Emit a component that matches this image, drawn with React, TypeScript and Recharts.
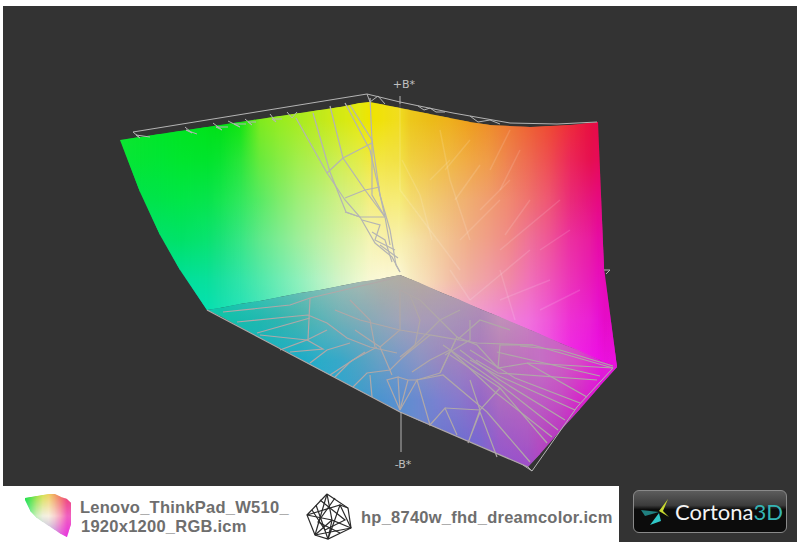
import { Area, ComposedChart, Line, ReferenceDot, XAxis, YAxis } from "recharts";

// wall of the gamut: column edges, top and bottom of the solid at each edge
const wallX = [120,140,160,180,207,220,240,260,280,300,320,340,360,370,385,400,410,430,450,470,490,510,530,550,570,590,598,604,617];
const wallTop = [140,137,134,131,127,125,122,119,116,113,110,107,103,102,105,108,110,114,118,122,125,126,127,126,125,123,122,268,367];
const wallBottom = [140,192,235,270,310,308,304,301,297,293,290,286,282,281,278,275,279,288,296,305,313,322,330,339,347,356,359,362,367];
const wallRows = [120,160,200,240,280,320,360];
const wallColors = [
  "10e62c 08e638 00e450 00e270 00e098 00e0b0 00e0b8",
  "08e628 04e634 00e44c 00e270 00e098 00e0b0 00e0b8",
  "00e624 00e634 00e44a 00e26c 00e098 00e0b4 00e0b8",
  "00e420 00e62e 00e648 00e268 00e09c 00e0b8 00e0c0",
  "00e218 00e42c 06e44c 08e270 08e09c 04e0b8 00e0c0",
  "00e014 08e430 14e650 18e278 18e0a0 14e0b8 10e0c0",
  "10e410 28e638 30e85c 36e684 30e4a8 24e2bc 20e0c0",
  "80ea1e 68ea3c 58ea64 60e88c 50e8ac 40e4c0 40e4c0",
  "98ec20 88ec44 80ec6c 80ec94 70ecb4 60e8c4 60e8c4",
  "aaec20 a4ee4c a0ee78 a0ee9c 90f0bc 80ecc4 80ecc4",
  "c0ea1c b8ee50 b8f080 bcf0a4 b4f2c4 a0f0c8 a0f0c8",
  "d4ea14 d0ee50 d0f084 d4f2a8 d4f4c8 c0f4d0 c0f4d0",
  "e4e810 e4ec48 e4f080 e8f4b0 eef8d0 e0f8d8 e0f8d8",
  "eee400 f0e840 f4ee80 f6f4b4 f8f8d4 f8f8d8 f8f8d8",
  "f0e010 f2e444 f6ec78 f8f0ac fcf8d8 fcf8d8 fcf8d8",
  "f0dc20 f2e044 f6ec78 f8f0ac fcf8d8 fcf0e0 fcf0e0",
  "ecc81c f0d040 f4dc70 f6e8a8 f8ecc4 fbe8e4 fbe8e4",
  "ecbc18 f0c440 f2cc70 f4d49c f6d8b4 f8c8d8 f8d0e0",
  "eeb01c f0b844 f0bc70 f2c090 f2c0a8 f4b0d8 f6c0e0",
  "ee9e1c f0a844 f0ac70 f0ac88 f0aca4 f2a0d8 f4a0e8",
  "ee8c28 ef9a48 f09c70 f09c88 f09ca8 f090d8 f090ea",
  "ee7830 ee8050 f08870 f08888 f088a8 f080d8 f080ec",
  "ee6030 ee6850 ef7070 ef7098 f070b8 f070dc f068ec",
  "ee4830 ee4c50 ee5474 ee5498 ee54b8 ef54d8 f04ce8",
  "ee2c38 ec2858 ea2c78 ec30a0 ec34b8 ee30d4 f028e8",
  "e81040 e61050 e6147c e81ca0 e81cb8 ea20d4 ee18e4",
  "e60a48 e60a58 e60a80 e60ca4 e810bc e812d4 ee10e4",
  "e60a48 e60a58 e60a80 e60ca4 e80cb8 e60cc8 ea10dc",
];

// floor of the gamut
const floorX = [207,220,240,260,280,300,320,340,360,380,400,420,440,460,480,500,528,540,560,580,600,617];
const floorTop = [310,308,304,301,297,293,290,286,282,279,275,283,292,300,309,317,329,334,343,351,360,367];
const floorBottom = [310,316,327,338,348,359,370,380,391,401,412,421,429,438,446,455,467,454,431,409,386,367];
const floorRows = [280,320,360,400,440,480];
const floorColors = [
  "10c8b0 10c8b0 10c0b0 10c0b0 10c0b0 10c0b0",
  "10c4a8 10c4a8 10bcb0 10bcb0 10bcb0 10bcb0",
  "30c8b0 18bcae 14b4b8 14b4b8 14b4b8 14b4b8",
  "48c8b4 20b8b0 14b0c0 14b0c0 14b0c0 14b0c0",
  "60c4b4 30b4b0 18b0c4 18b0c4 18b0c4 18b0c4",
  "74c0b4 44b4b0 1cacc8 20a8cc 20a8cc 20a8cc",
  "88beb4 58b4b8 2cacc8 28a8d0 28a8d0 28a8d0",
  "98bcb4 70b0b8 38a8c8 30a4d0 30a4d0 30a4d0",
  "a4b8b0 80acb8 50a4c4 3c9ccc 3c9ccc 3c9ccc",
  "acb0a8 90a8b8 68a0c4 4c94d0 4c94d0 4c94d0",
  "b0aca4 a0a4b8 7898c8 5c90d0 5c90d0 5c90d0",
  "b4a8a0 a89cb8 8c94c4 6c88d0 6c88d0 6c88d0",
  "b4a4a4 a898b8 9888c0 7c80d0 6c78d0 6c78d0",
  "b8a0a8 a890b8 a080c0 8878cc 7070d0 7070d0",
  "bc98b0 ac88b8 a878c0 9468c8 7c68d0 7c68d0",
  "c090b8 c090b8 b47cb8 ac6cc0 9c5cc8 8c54d0",
  "c880c0 c880c0 c070c0 b864c0 a858c4 9848cc",
  "c870c4 c870c4 c470c4 bc5cc4 b44cc0 ac40c8",
  "cc60c4 cc60c4 cc60c4 c44cc4 b834c0 b834c0",
  "d848c8 d848c8 d848c8 d428c8 cc18c8 cc18c8",
  "e020d8 e020d8 e020d8 e010d8 e010d8 e010d8",
];

// legend thumbnail of the first profile
const thumbX = [25,31,37,43,49,55,61,67,71];
const thumbTop = [498,497,496,495,494,494,497,499,503];
const thumbBottom = [500,512,518,522,526,530,534,537,524];
const thumbRows = [494,516,538];
const thumbColors = [
  "20e040 30e0a0 30d0c0",
  "50e040 90f0a0 50d0d0",
  "a0e040 d0f0c0 70c0d0",
  "d8e050 f0f0e0 a0b0d0",
  "f0d060 f8f0e0 b0a0d8",
  "f0a060 f8d0d0 c080e0",
  "f07060 f8a0c0 e050e0",
  "ee4070 f060c0 e830e0",
];

type Pt = number[];

const frameLines: Pt[][] = [
  [[133,132],[367,94],[400,102],[453,113],[510,123],[557,124],[597,122]],
  [[133,132],[140,138],[136,135],[150,137]],
  [[185,127],[192,133],[186,130],[197,134]],
  [[213,123],[222,130],[216,127],[228,127]],
  [[228,121],[240,127],[234,124],[246,124]],
  [[245,119],[252,125],[248,122],[256,122]],
  [[270,114],[276,122],[272,119],[282,119]],
  [[287,112],[292,118],[297,112]],
  [[367,94],[370,102],[378,96],[385,104]],
  [[400,96],[400,104]],
  [[418,106],[424,110],[430,108],[436,112],[445,112]],
  [[470,116],[478,122],[490,120],[500,124]],
  [[532,471],[577,407],[613,368]],
  [[523,465],[532,471],[528,467]],
  [[604,270],[610,270],[606,274]],
];

const tangleLines: Pt[][] = [
  [[296,118],[327,173],[345,200],[360,217],[375,243],[392,257],[400,272]],
  [[313,113],[330,172],[346,212],[360,217]],
  [[330,106],[343,158],[365,190],[385,217],[390,245]],
  [[345,103],[370,150],[385,217]],
  [[350,105],[372,140],[372,195],[385,217]],
  [[370,98],[372,140],[380,195],[390,230],[396,265],[400,272]],
  [[327,173],[343,158],[372,143]],
  [[345,198],[365,190],[380,187]],
  [[345,212],[360,217],[385,217]],
  [[362,220],[380,225],[375,240],[395,250]],
  [[372,232],[385,240],[392,262]],
  [[380,245],[398,258]],
];

const floorLines: Pt[][] = [
  [[237,322],[287,317],[308,315],[327,323],[347,338],[370,347],[397,353]],
  [[257,333],[310,318]],
  [[260,335],[307,340],[327,330]],
  [[280,350],[307,340],[323,349],[290,352]],
  [[310,363],[327,350],[350,343]],
  [[330,375],[353,360],[377,347]],
  [[335,377],[350,362],[365,352]],
  [[353,387],[367,373],[390,370],[403,357]],
  [[372,397],[370,375]],
  [[400,410],[387,380],[398,377],[400,410]],
  [[400,410],[408,380]],
  [[310,298],[308,340]],
  [[223,312],[290,305],[310,298],[395,278]],
  [[207,310],[400,412],[528,467]],
  [[613,368],[533,345],[477,343],[430,335],[403,357]],
  [[613,368],[528,363],[498,368],[477,345],[457,337],[440,373]],
  [[613,366],[560,350],[520,346]],
  [[597,380],[498,373],[476,360]],
  [[600,376],[540,362],[497,352]],
  [[587,397],[527,363]],
  [[580,403],[515,378],[470,350]],
  [[575,410],[497,375],[470,360]],
  [[565,420],[500,380],[460,350]],
  [[558,430],[498,383],[443,345]],
  [[552,437],[495,392],[450,350]],
  [[547,443],[500,388],[450,355]],
  [[530,462],[487,412],[443,375],[417,380]],
  [[497,457],[480,412],[468,443],[480,410],[470,380]],
  [[457,435],[445,408],[430,425],[417,380],[400,410]],
  [[445,408],[480,410],[500,388]],
  [[440,373],[417,380],[408,380],[398,377]],
  [[457,340],[480,320],[510,330]],
  [[440,373],[457,337],[440,320],[420,300],[400,290]],
  [[498,368],[500,345],[533,345]],
  [[403,357],[420,340],[440,320],[460,310]],
  [[380,347],[400,330],[400,290]],
  [[350,300],[370,320],[375,347]],
  [[335,310],[360,320],[400,330],[430,335]],
  [[400,357],[415,345],[420,320],[410,295]],
  [[445,355],[470,340],[470,320]],
  [[412,372],[430,360],[450,350]],
  [[355,330],[380,347],[392,375]],
];

// paler streaks left by the second solid on the first one
const streakLines: Pt[][] = [
  [[400,104],[400,190]],
  [[402,160],[420,195],[432,240]],
  [[445,170],[470,140]],
  [[455,200],[480,165]],
  [[450,270],[470,300]],
  [[500,270],[515,320]],
  [[490,170],[510,130]],
  [[530,200],[505,235]],
  [[460,240],[500,200]],
  [[500,300],[550,280]],
  [[470,300],[530,250]],
  [[440,130],[450,180],[470,240]],
  [[480,210],[510,180]],
  [[520,150],[500,190]],
  [[540,250],[570,230]],
  [[500,250],[560,200]],
  [[540,310],[580,290]],
  [[400,190],[430,230],[460,270]],
  [[430,180],[450,160]],
];
const iconLines: Pt[][] = [
  [[327,494],[348,508],[351,528],[328,539],[315,535],[307,515],[327,494]],
  [[327,494],[332,520],[351,528]],
  [[332,520],[315,535]],
  [[332,520],[307,515]],
  [[327,494],[315,535]],
  [[332,520],[328,539],[340,505],[348,508]],
  [[307,515],[340,505],[351,528]],
  [[316,505],[328,539]],
  [[315,535],[351,528]],
  [[320,500],[345,520],[325,530],[312,510]],
  [[335,498],[318,522],[340,533]],
];

const hex = (row: string) => row.split(" ").map((c) => "#" + c);

function stripData(i: number, xs: number[], tops: number[], bottoms: number[]) {
  return [
    { x: xs[i], range: [tops[i], bottoms[i]] },
    { x: xs[i + 1], range: [tops[i + 1], bottoms[i + 1]] },
  ];
}

// one vertical gradient per column, plus one left-to-right fade per strip so neighbours blend
function Gradients({ id, xs, rows, colors }: { id: string; xs: number[]; rows: number[]; colors: string[] }) {
  const first = rows[0];
  const last = rows[rows.length - 1];
  return (
    <>
      {colors.map((row, i) => (
        <linearGradient key={id + i} id={id + i} gradientUnits="userSpaceOnUse" x1="0" x2="0" y1={first} y2={last}>
          {hex(row).map((c, j) => (
            <stop key={j} offset={(rows[j] - first) / (last - first)} stopColor={c} />
          ))}
        </linearGradient>
      ))}
      {xs.slice(0, -1).map((x, i) => (
        <linearGradient key={"f" + i} id={`${id}fade${i}`} gradientUnits="userSpaceOnUse" x1={x} x2={xs[i + 1]} y1="0" y2="0">
          <stop offset={0} stopColor="#000" />
          <stop offset={1} stopColor="#fff" />
        </linearGradient>
      ))}
      {xs.slice(0, -1).map((x, i) => (
        <mask key={"m" + i} id={`${id}mask${i}`} maskUnits="userSpaceOnUse" x={x} y={0} width={xs[i + 1] - x} height={546}>
          <rect x={x} y={0} width={xs[i + 1] - x} height={546} fill={`url(#${id}fade${i})`} />
        </mask>
      ))}
    </>
  );
}

function strips(id: string, xs: number[], tops: number[], bottoms: number[], count: number) {
  return xs.slice(0, -1).flatMap((_, i) => {
    const data = stripData(i, xs, tops, bottoms);
    const next = Math.min(i + 1, count - 1);
    return [
      <Area key={id + i} data={data} dataKey="range" type="linear" stroke="none" fill={`url(#${id}${i})`} fillOpacity={1} dot={false} activeDot={false} isAnimationActive={false} />,
      <Area key={id + "b" + i} data={data} dataKey="range" type="linear" stroke="none" fill={`url(#${id}${next})`} fillOpacity={1} mask={`url(#${id}mask${i})`} dot={false} activeDot={false} isAnimationActive={false} />,
    ];
  });
}

function wires(id: string, lines: Pt[][], color: string, width = 1, opacity = 1) {
  return lines.map((pts, i) => (
    <Line
      key={id + i}
      data={pts.map(([x, y]) => ({ x, y }))}
      dataKey="y"
      type="linear"
      stroke={color}
      strokeWidth={width}
      strokeOpacity={opacity}
      dot={false}
      activeDot={false}
      isAnimationActive={false}
    />
  ));
}

const textStyle = {
  position: "absolute" as const,
  fontFamily: "Liberation Sans",
  fontWeight: 700,
  fontSize: 16.5,
  letterSpacing: 0.25,
  color: "#6e6e6e",
  whiteSpace: "pre" as const,
};

export default function App() {
  return (
    <div style={{ position: "absolute", left: 0, top: 0, width: 800, height: 546, background: "#fff", overflow: "hidden" }}>
      <div style={{ position: "absolute", left: 3, top: 6, width: 794, height: 480, background: "#333" }} />
      <div style={{ position: "absolute", left: 619, top: 486, width: 178, height: 56, background: "#333" }} />

      <div style={{ position: "absolute", left: 633, top: 490, width: 152, height: 41, borderRadius: 6, border: "1px solid #8a8a8a", background: "linear-gradient(#5c5c5c 0%, #3c3c3c 35%, #0c0c0c 45%, #0c0c0c 100%)" }} />
      <div style={{ position: "absolute", left: 675, top: 497, fontFamily: "Lato", fontSize: 22, lineHeight: "30px", color: "#f4f4f4", whiteSpace: "pre" }}>
        Cortona<span style={{ color: "#35b4b4" }}>3D</span>
      </div>
      <svg width="30" height="30" style={{ position: "absolute", left: 641, top: 496 }}>
        <polygon points="27,3 22,15 28,21 18,15" fill="#c8d830" />
        <polygon points="0,14 18,16 4,20" fill="#208080" />
        <polygon points="9,29 18,17 20,25" fill="#30c8c8" />
      </svg>

      <div style={{ ...textStyle, left: 80, top: 498 }}>Lenovo_ThinkPad_W510_</div>
      <div style={{ ...textStyle, left: 81, top: 517 }}>1920x1200_RGB.icm</div>
      <div style={{ ...textStyle, left: 361, top: 508 }}>hp_8740w_fhd_dreamcolor.icm</div>

      <div style={{ position: "absolute", left: 0, top: 0 }}>
        <ComposedChart width={800} height={546} margin={{ top: 0, right: 0, bottom: 0, left: 0 }}>
          <defs>
            <Gradients id="wall" xs={wallX} rows={wallRows} colors={wallColors} />
            <Gradients id="floor" xs={floorX} rows={floorRows} colors={floorColors} />
            <Gradients id="thumb" xs={thumbX} rows={thumbRows} colors={thumbColors} />
          </defs>
          <XAxis type="number" dataKey="x" domain={[0, 800]} hide allowDataOverflow />
          <YAxis type="number" domain={[0, 546]} reversed hide allowDataOverflow />
          {strips("wall", wallX, wallTop, wallBottom, wallColors.length)}
          {strips("floor", floorX, floorTop, floorBottom, floorColors.length)}
          {strips("thumb", thumbX, thumbTop, thumbBottom, thumbColors.length)}
          {wires("streak", streakLines, "#ffffff", 1.5, 0.13)}
          {wires("frame", frameLines, "#b4b4b4")}
          {wires("tangle", tangleLines, "#b4b4b4", 1.2)}
          {wires("floorw", floorLines, "#b0a8a8", 1.2)}
          {wires("axis", [[[401, 412], [401, 452]]], "#b4b4b4")}
          {wires("icon", iconLines, "#2a2a2a", 1.2)}
          <ReferenceDot x={404} y={84} r={0} stroke="none" label={{ value: "+B*", fill: "#c0c0c0", fontSize: 11, fontFamily: "DejaVu Sans", position: "center" }} />
          <ReferenceDot x={403} y={464} r={0} stroke="none" label={{ value: "-B*", fill: "#c0c0c0", fontSize: 11, fontFamily: "DejaVu Sans", position: "center" }} />
        </ComposedChart>
      </div>
    </div>
  );
}
